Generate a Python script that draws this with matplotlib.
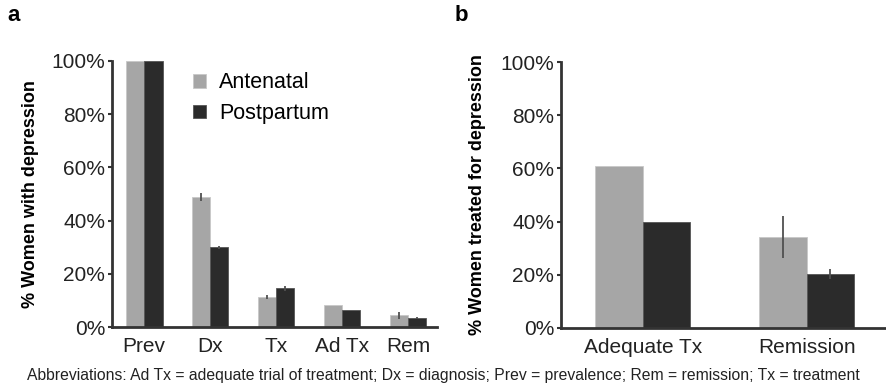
import matplotlib.pyplot as plt
import numpy as np

plt.rcParams['font.family'] = ['Liberation Sans', 'DejaVu Sans']

# panel a data
cats_a = ['Prev', 'Dx', 'Tx', 'Ad Tx', 'Rem']
ante_a = [100, 49, 11.3, 8.3, 4.5]
post_a = [100, 30, 14.6, 6.4, 3.3]
ante_a_err = [0, 1.5, 0.9, 0, 1.3]
post_a_err = [0, 0.5, 1.0, 0, 0.4]

# panel b data
cats_b = ['Adequate Tx', 'Remission']
ante_b = [61, 34.2]
post_b = [40, 20.3]
ante_b_err = [0, 8.0]
post_b_err = [0, 1.7]

light = '#a6a6a6'
dark = '#2b2b2b'
errc = '#505050'
yticks = [0, 20, 40, 60, 80, 100]
ylabs = ['0%', '20%', '40%', '60%', '80%', '100%']

fig = plt.figure(figsize=(8.87, 3.9), dpi=100)
ax1 = fig.add_axes([0.1263, 0.1615, 0.3664, 0.6821])
ax2 = fig.add_axes([0.6325, 0.159, 0.3675, 0.682])


def style(ax):
    ax.set_ylim(0, 100)
    ax.set_yticks(yticks)
    ax.set_yticklabels(ylabs, fontsize=15, color='#222222')
    for s in ['top', 'right']:
        ax.spines[s].set_visible(False)
    ax.spines['left'].set_linewidth(2)
    ax.spines['bottom'].set_linewidth(2)
    ax.spines['left'].set_color('#333333')
    ax.spines['bottom'].set_color('#333333')
    ax.tick_params(axis='y', length=3, width=1.5, color='#333333', pad=2)
    ax.tick_params(axis='x', length=0, pad=7, labelsize=15, labelcolor='#222222')


# panel a
x = np.arange(len(cats_a))
w = 0.28
ax1.bar(x - w / 2, ante_a, w, color=light, edgecolor='#c8c8c8', linewidth=0.6,
        label='Antenatal')
ax1.bar(x + w / 2, post_a, w, color=dark, edgecolor='#555555', linewidth=0.6,
        label='Postpartum')
ax1.errorbar(x - w / 2, ante_a, yerr=ante_a_err, fmt='none', ecolor=errc,
             elinewidth=1.3, capsize=0)
ax1.errorbar(x + w / 2, post_a, yerr=post_a_err, fmt='none', ecolor=errc,
             elinewidth=1.3, capsize=0)
ax1.set_xlim(-0.485, 4.44)
ax1.set_xticks(x)
ax1.set_xticklabels(cats_a)
style(ax1)
ax1.set_ylabel('% Women with depression', fontsize=13, fontweight='bold', labelpad=9)
ax1.legend(loc='upper left', bbox_to_anchor=(0.19, 1.03), frameon=False,
           fontsize=15.5, handlelength=0.6, handleheight=0.6, handletextpad=0.6,
           labelspacing=0.45)

# panel b
xb = np.arange(len(cats_b))
wb = 0.29
ax2.bar(xb - wb / 2, ante_b, wb, color=light, edgecolor='#c8c8c8', linewidth=0.6)
ax2.bar(xb + wb / 2, post_b, wb, color=dark, edgecolor='#555555', linewidth=0.6)
ax2.errorbar(xb - wb / 2, ante_b, yerr=ante_b_err, fmt='none', ecolor=errc,
             elinewidth=1.3, capsize=0)
ax2.errorbar(xb + wb / 2, post_b, yerr=post_b_err, fmt='none', ecolor=errc,
             elinewidth=1.3, capsize=0)
ax2.set_xlim(-0.5, 1.49)
ax2.set_xticks(xb)
ax2.set_xticklabels(cats_b)
style(ax2)
ax2.set_ylabel('% Women treated for depression', fontsize=13, fontweight='bold', labelpad=10)

fig.text(0.008, 0.96, 'a', fontsize=16, fontweight='bold', va='center')
fig.text(0.512, 0.96, 'b', fontsize=16, fontweight='bold', va='center')
fig.text(0.5, 0.036, 'Abbreviations: Ad Tx = adequate trial of treatment; Dx = diagnosis; '
         'Prev = prevalence; Rem = remission; Tx = treatment',
         ha='center', va='center', fontsize=11.3, color='#222222')

fig.savefig('out.png', dpi=100)
